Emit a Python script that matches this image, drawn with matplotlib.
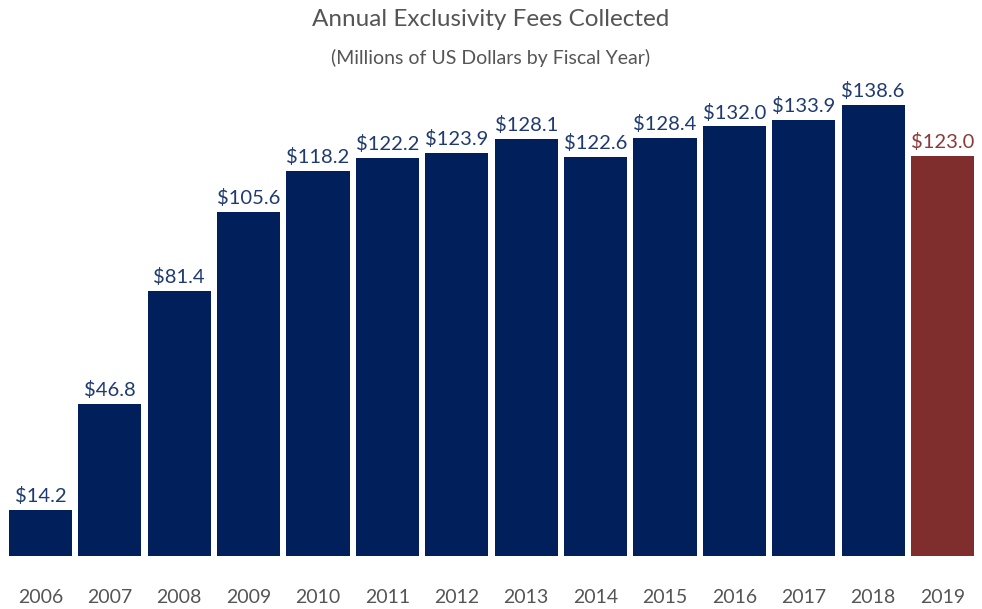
import matplotlib.pyplot as plt

years = ['2006', '2007', '2008', '2009', '2010', '2011', '2012',
         '2013', '2014', '2015', '2016', '2017', '2018', '2019']
fees = [14.2, 46.8, 81.4, 105.6, 118.2, 122.2, 123.9,
        128.1, 122.6, 128.4, 132.0, 133.9, 138.6, 123.0]

plt.rcParams['font.family'] = ['Lato', 'DejaVu Sans']

navy = '#001f5b'
red = '#7f2d2d'
colors = [navy] * (len(years) - 1) + [red]
label_colors = ['#1f3a70'] * (len(years) - 1) + ['#8b3a3a']

fig = plt.figure(figsize=(9.82, 6.09), dpi=100)
ax = fig.add_axes([0, 0.087, 1, (556 - 60) / 609])

x = list(range(len(years)))
bars = ax.bar(x, fees, width=0.91, color=colors)
for b, v, c in zip(bars, fees, label_colors):
    ax.text(b.get_x() + b.get_width() / 2, v + 1.5, f'${v:.1f}',
            ha='center', va='bottom', fontsize=14.5, color=c)

ax.set_xlim(-0.584, 13.57)
ax.set_ylim(0, 152.4)
ax.set_xticks(x)
ax.set_xticklabels(years, fontsize=14, color='#555555')
ax.tick_params(axis='x', length=0, pad=24)
ax.set_yticks([])
for s in ax.spines.values():
    s.set_visible(False)

fig.text(0.5, 1 - 20 / 609, 'Annual Exclusivity Fees Collected',
         ha='center', va='center', fontsize=17.5, color='#555555')
fig.text(0.5, 1 - 58 / 609, '(Millions of US Dollars by Fiscal Year)',
         ha='center', va='center', fontsize=14, color='#555555')

plt.savefig('out.png', dpi=100)
